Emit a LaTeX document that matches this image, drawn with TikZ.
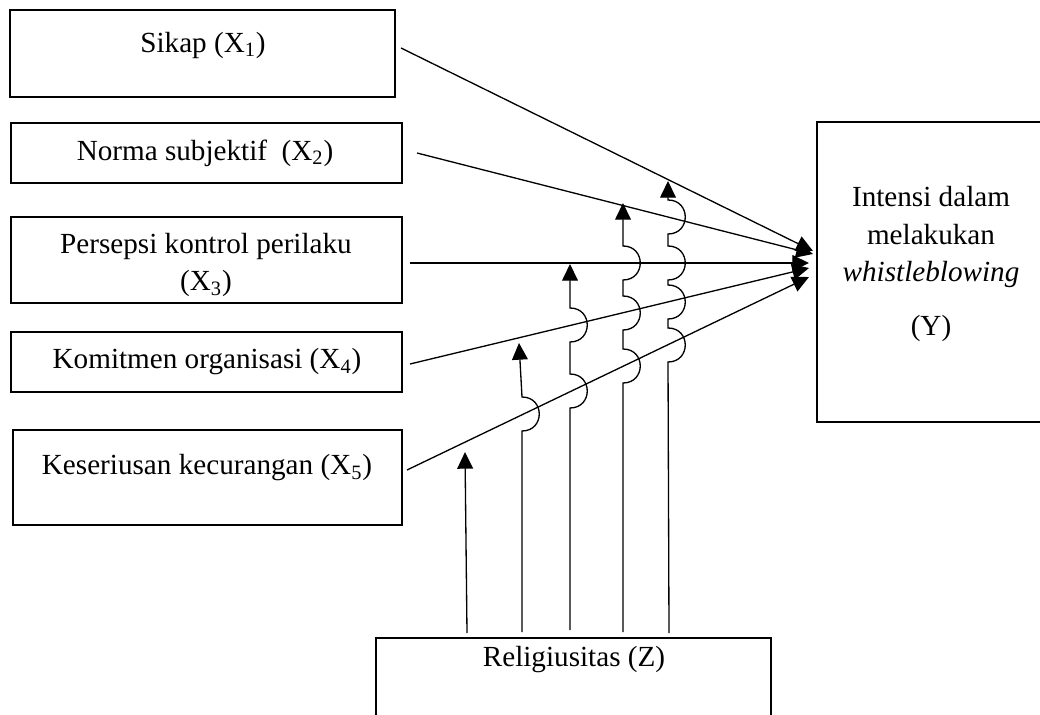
\documentclass[tikz,border=0pt]{standalone}
\usepackage{fontspec}
\setmainfont{Liberation Serif}
\usetikzlibrary{arrows.meta,fit}

\begin{document}
\begin{tikzpicture}[x=0.02cm,y=-0.02cm,
  box/.style={draw,line width=1.5pt,inner sep=0pt},
  txt/.style={font=\fontsize{16.6}{21.5}\selectfont,align=center,inner sep=0pt},
  link/.style={line width=0.75pt,-{Triangle[length=9.5pt,width=9pt]}}]

\clip (0,0) rectangle (1040,715);

% Boxes
\node[box,fit={(10,10) (395,97)}] (x1) {};
\node[box,fit={(11,123) (402,183)}] (x2) {};
\node[box,fit={(11,217) (402,303)}] (x3) {};
\node[box,fit={(11,332) (402,392)}] (x4) {};
\node[box,fit={(13,430) (402,525)}] (x5) {};
\node[box,fit={(817,122) (1060,422)}] (y) {};
\node[box,fit={(376,638) (771,740)}] (z) {};

% Texts
\node[txt] (x1txt) at (203,45) {Sikap (X\textsubscript{1})};
\node[txt] (x2txt) at (205,153) {Norma subjektif\ \ (X\textsubscript{2})};
\node[txt] (x3txt) at (206,265) {Persepsi kontrol perilaku\\(X\textsubscript{3})};
\node[txt] (x4txt) at (207,362) {Komitmen organisasi (X\textsubscript{4})};
\node[txt] (x5txt) at (207,468) {Keseriusan kecurangan (X\textsubscript{5})};
\node[txt] (ytxt) at (931,264) {Intensi dalam\\melakukan\\\textit{whistleblowing}\\[9pt](Y)};
\node[txt] (ztxt) at (574,660) {Religiusitas (Z)};

% Ends of the arrows to Y
\coordinate (s1) at (401,48);
\coordinate (s2) at (417,153);
\coordinate (s3) at (410,263);
\coordinate (s4) at (410,364);
\coordinate (s5) at (407,470);
\coordinate (t1) at (813,251);
\coordinate (t2) at (813,254);
\coordinate (t3) at (809,263);
\coordinate (t4) at (809,268);
\coordinate (t5) at (809,277);

% Ends of the arrows from Z
\coordinate (z1) at (467,633);
\coordinate (z2) at (522,632);
\coordinate (z3) at (570,630);
\coordinate (z4) at (623,632);
\coordinate (z5) at (669,633);
\coordinate (p1) at (465,452);
\coordinate (p2) at (519,343);
\coordinate (p3) at (570,264);
\coordinate (p4) at (623,203);
\coordinate (p5) at (668,181);

% X to Y
\draw[link] (s1) -- (t1);
\draw[link] (s2) -- (t2);
\draw[link] (s3) -- (t3);
\draw[link] (s4) -- (t4);
\draw[link] (s5) -- (t5);

% Z to the links (with hops)
\draw[link] (z1) -- (p1);
\draw[link] (z2) -- (522,431) .. controls (545,431) and (545,397) .. (522,397) -- (p2);
\draw[link] (z3) -- (570,408) .. controls (593,408) and (593,374) .. (570,374)
  -- (570,342) .. controls (593,342) and (593,308) .. (570,308) -- (p3);
\draw[link] (z4) -- (623,383) .. controls (646,383) and (646,349) .. (623,349)
  -- (623,330) .. controls (646,330) and (646,296) .. (623,296)
  -- (623,280) .. controls (646,280) and (646,246) .. (623,246) -- (p4);
\draw[link] (z5) -- (668,362) .. controls (691,362) and (691,328) .. (668,328)
  -- (668,319) .. controls (691,319) and (691,285) .. (668,285)
  -- (668,280) .. controls (691,280) and (691,246) .. (668,246)
  -- (668,234) .. controls (691,234) and (691,200) .. (668,200) -- (p5);

\end{tikzpicture}
\end{document}
